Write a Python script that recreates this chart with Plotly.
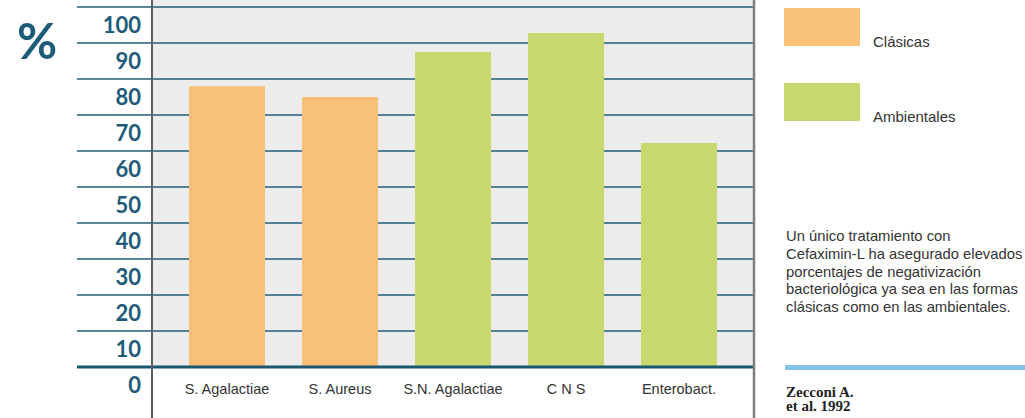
import plotly.graph_objects as go

# ---- data ----
categories = ["S. Agalactiae", "S. Aureus", "S.N. Agalactiae", "C N S", "Enterobact."]
values = [78, 75, 87.5, 92.8, 62.2]
groups = ["Clásicas", "Clásicas", "Ambientales", "Ambientales", "Ambientales"]
group_colors = {"Clásicas": "#F9C078", "Ambientales": "#C8D86F"}
y_tick_values = [0, 10, 20, 30, 40, 50, 60, 70, 80, 90, 100]
y_tick_labels = ["0", "10", "20", "30", "40", "50", "60", "70", "80", "90", "100"]
grid_values = [10, 20, 30, 40, 50, 60, 70, 80, 90, 100]
note_lines = [
    "Un único tratamiento con",
    "Cefaximin-L ha asegurado elevados",
    "porcentajes de negativización",
    "bacteriológica ya sea en las formas",
    "clásicas como en las ambientales.",
]
source_lines = ["Zecconi A.", "et al. 1992"]

# ---- geometry ----
W, H = 1025, 418
ML, MR = 152, 271
PW = W - ML - MR
Y_MIN, Y_MAX = -14.17, 101.94
X_RANGE = [-0.664, 4.664]

def px_x(px):
    return (px - ML) / PW

def px_y(py):
    return 1 - py / H

TEAL = "#1D5B78"
GRID = "#215F7A"
TEXT = "#333333"
SANS = "Liberation Sans, Arial, sans-serif"

fig = go.Figure()
fig.add_trace(go.Bar(
    x=categories,
    y=values,
    width=0.673,
    marker=dict(color=[group_colors[g] for g in groups], line=dict(width=0)),
    showlegend=False,
    hoverinfo="x+y",
))

shapes = []
# grey plot background above baseline
shapes.append(dict(type="rect", xref="paper", yref="y", x0=0, x1=1, y0=0, y1=Y_MAX,
                   fillcolor="#ECECEC", line=dict(width=0), layer="below"))
for v in grid_values:
    shapes.append(dict(type="line", xref="paper", yref="y", x0=px_x(77), x1=1, y0=v, y1=v,
                       line=dict(color=GRID, width=1.6), layer="below"))
# baseline
shapes.append(dict(type="line", xref="paper", yref="y", x0=px_x(77), x1=1, y0=0, y1=0,
                   line=dict(color="#1A5670", width=3), layer="above"))
# vertical frame lines
shapes.append(dict(type="line", xref="paper", yref="paper", x0=0, x1=0, y0=0, y1=1,
                   line=dict(color="#5E5E5E", width=2), layer="above"))
shapes.append(dict(type="line", xref="paper", yref="paper", x0=1, x1=1, y0=0, y1=1,
                   line=dict(color="#7E7E7E", width=2.5), layer="above"))
# legend swatches
shapes.append(dict(type="rect", xref="paper", yref="paper", x0=px_x(784), x1=px_x(860),
                   y0=px_y(46), y1=px_y(8), fillcolor=group_colors["Clásicas"], line=dict(width=0)))
shapes.append(dict(type="rect", xref="paper", yref="paper", x0=px_x(784), x1=px_x(860),
                   y0=px_y(121), y1=px_y(83), fillcolor=group_colors["Ambientales"], line=dict(width=0)))
# blue separator line
shapes.append(dict(type="line", xref="paper", yref="paper", x0=px_x(785), x1=px_x(1025),
                   y0=px_y(367.5), y1=px_y(367.5), line=dict(color="#85C2E8", width=5)))

annotations = []
annotations.append(dict(text="%", xref="paper", yref="paper", x=px_x(37), y=px_y(40),
                        xanchor="center", yanchor="middle", showarrow=False,
                        font=dict(family="Lato", size=49, color=TEAL, weight="bold")))
annotations.append(dict(text="Clásicas", xref="paper", yref="paper", x=px_x(871), y=px_y(41),
                        xanchor="left", yanchor="middle", showarrow=False,
                        font=dict(family=SANS, size=15, color=TEXT)))
annotations.append(dict(text="Ambientales", xref="paper", yref="paper", x=px_x(871), y=px_y(116),
                        xanchor="left", yanchor="middle", showarrow=False,
                        font=dict(family=SANS, size=15, color=TEXT)))
for i, line in enumerate(note_lines):
    annotations.append(dict(text=line, xref="paper", yref="paper", x=px_x(784), y=px_y(236 + 17.8 * i),
                            xanchor="left", yanchor="middle", showarrow=False,
                            font=dict(family=SANS, size=14.8, color=TEXT)))
for i, line in enumerate(source_lines):
    annotations.append(dict(text=line, xref="paper", yref="paper", x=px_x(784), y=px_y(392 + 14 * i),
                            xanchor="left", yanchor="middle", showarrow=False,
                            font=dict(family="Liberation Serif, Times New Roman, serif", size=15,
                                      color="#222222", weight="bold")))

fig.update_layout(
    template="none",
    width=W, height=H,
    margin=dict(l=ML, r=MR, t=0, b=0, pad=0),
    paper_bgcolor="white",
    plot_bgcolor="rgba(0,0,0,0)",
    shapes=shapes,
    annotations=annotations,
    showlegend=False,
    xaxis=dict(
        type="category", range=X_RANGE, anchor="free",
        position=(0 - Y_MIN) / (Y_MAX - Y_MIN),
        showgrid=False, zeroline=False, showline=False, ticks="",
        ticklabelstandoff=12, automargin=False,
        tickfont=dict(family=SANS, size=14.5, color=TEXT),
    ),
    yaxis=dict(
        range=[Y_MIN, Y_MAX],
        tickvals=[v - 5 for v in y_tick_values], ticktext=y_tick_labels,
        showgrid=False, zeroline=False, showline=False, ticks="",
        ticklabelstandoff=10, automargin=False,
        tickfont=dict(family="Lato", size=22, color=TEAL, weight="bold"),
    ),
)

fig.write_html(
    "out.html",
    config={"displayModeBar": False},
    post_script="document.body.style.margin='0px';document.body.style.overflow='hidden';",
)
